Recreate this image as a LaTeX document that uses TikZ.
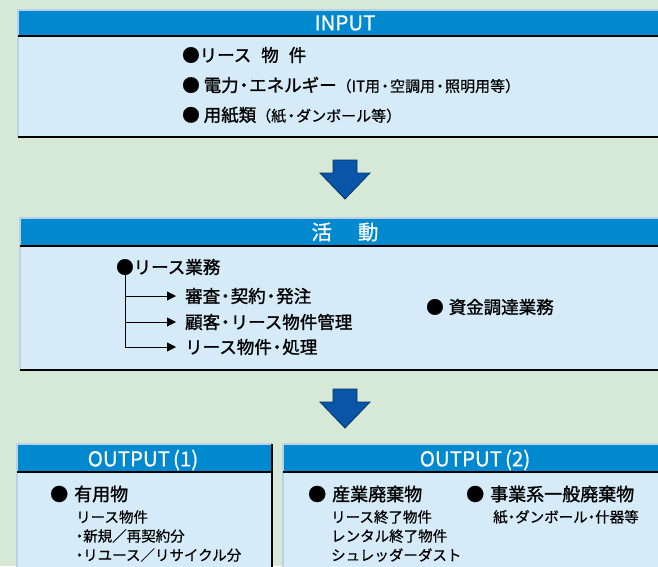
\documentclass[tikz,border=0pt]{standalone}
\usepackage{fontspec}
\setmainfont{Noto Sans CJK JP}
\newfontfamily\medf{Noto Sans CJK JP}[FakeBold=1.3]
\newfontfamily\lightf{Noto Sans CJK JP}[FakeBold=0.6]
\usetikzlibrary{arrows.meta}
\definecolor{bg}{HTML}{D6E9D6}
\definecolor{hdr}{HTML}{0089CF}
\definecolor{bodyc}{HTML}{D5EBF8}
\definecolor{rim}{HTML}{B9D2EA}
\definecolor{arrowc}{HTML}{0A55A8}
\definecolor{arrowd}{HTML}{05336B}
\newcommand{\nb}{\hspace{-3.5pt}}
\newcommand{\nbs}{\hspace{-2.5pt}}
\tikzset{
  txt/.style={inner sep=0pt, anchor=west, font=\medf\fontsize{17.5}{20}\selectfont},
  big/.style={inner sep=0pt, anchor=west, font=\medf\fontsize{18}{21}\selectfont},
  small/.style={inner sep=0pt, anchor=west, font=\lightf\fontsize{14.5}{16}\selectfont},
  head/.style={inner sep=0pt, text=white, font=\lightf\fontsize{20.5}{22}\selectfont},
  rimline/.style={draw=rim, line width=2pt},
  sep/.style={draw=black, line width=1.6pt},
  base/.style={draw=black, line width=2.2pt},
  blockarrow/.style={fill=arrowc, draw=arrowd, line width=0.8pt, line join=miter},
  branch/.style={draw=black, line width=0.9pt, -{Triangle[length=9pt,width=9pt]}}
}
\begin{document}
\begin{tikzpicture}[x=1pt,y=-1pt]
\useasboundingbox (0,0) rectangle (658,566);
\fill[bg] (0,0) rectangle (658,566);

% ---------- INPUT box
\fill[hdr] (18,10) rectangle (662,36);
\fill[bodyc] (18,36) rectangle (662,137);
\draw[rimline] (18,137) -- (18,10) -- (662,10);
\draw[sep] (18,36) -- (662,36);
\draw[base] (18,137) -- (662,137);
\node[head] (inh) at (345,23) {INPUT};
\node[txt] (in1) at (182,55) {●リース\hspace{10pt}物\hspace{10pt}件};
\node[txt] (in2) at (182,85) {●\hspace{4pt}電力\nb・\nb エネルギー\lightf\fontsize{15}{16}\selectfont（IT用\nbs・\nbs 空調用\nbs・\nbs 照明用等）};
\node[txt] (in3) at (182,115) {●\hspace{4pt}用紙類\lightf\fontsize{15}{16}\selectfont（紙\nbs・\nbs ダンボール等）};

% ---------- arrow 1
\draw[blockarrow] (333,160) -- (357,160) -- (357,173) -- (370,173) -- (345,199) -- (320,173) -- (333,173) -- cycle;

% ---------- Activity box
\fill[hdr] (20,218) rectangle (662,246);
\fill[bodyc] (20,246) rectangle (662,370);
\draw[rimline] (20,370) -- (20,218) -- (662,218);
\draw[sep] (20,246) -- (662,246);
\draw[base] (20,370) -- (662,370);
\node[head] (acth) at (345,232) {活\hspace{26pt}動};
\node[txt] (lease) at (116,267) {●リース業務};
\coordinate (trunk) at (125,270);
\coordinate (b1) at (125,296);
\coordinate (b2) at (125,322);
\coordinate (b3) at (125,347);
\node[txt] (a1) at (185,296) {審査\nb・\nb 契約\nb・\nb 発注};
\node[txt] (a2) at (185,322) {顧客\nb・\nb リース物件管理};
\node[txt] (a3) at (185,347) {リース物件\nb・\nb 処理};
\draw[draw=black, line width=0.9pt] (trunk) -- (b3);
\draw[branch] (b1) -- ([xshift=-9pt]a1.west);
\draw[branch] (b2) -- ([xshift=-9pt]a2.west);
\draw[branch] (b3) -- ([xshift=-9pt]a3.west);
\node[txt] (fund) at (426,307) {●\hspace{5pt}資金調達業務};

% ---------- arrow 2
\draw[blockarrow] (333,389) -- (357,389) -- (357,402) -- (370,402) -- (345,428) -- (320,402) -- (333,402) -- cycle;

% ---------- OUTPUT (1)
\fill[hdr] (17,444) rectangle (272,472);
\fill[bodyc] (17,472) rectangle (272,570);
\draw[rimline] (17,570) -- (17,444) -- (272,444);
\draw[sep] (17,472) -- (272,472);
\draw[draw=black, line width=2pt] (272,444) -- (272,570);
\node[head] (o1h) at (143,460) {OUTPUT\hspace{3pt}(1)};
\node[big] (useful) at (50,494) {●\hspace{6pt}有用物};
\node[small] (u1) at (76,517) {リース物件};
\node[small] (u2) at (72,536) {・\nb 新規／再契約分};
\node[small] (u3) at (72,555) {・\nb リユース／リサイクル分};

% ---------- OUTPUT (2)
\fill[hdr] (283,444) rectangle (662,472);
\fill[bodyc] (283,472) rectangle (662,570);
\draw[rimline] (283,570) -- (283,444) -- (662,444);
\draw[sep] (283,472) -- (662,472);
\node[head] (o2h) at (475,460) {OUTPUT\hspace{3pt}(2)};
\node[big] (ind) at (308,494) {●\hspace{6pt}産業廃棄物};
\node[small] (i1) at (331,517) {リース終了物件};
\node[small] (i2) at (331,536) {レンタル終了物件};
\node[small] (i3) at (331,555) {シュレッダーダスト};
\node[big] (gen) at (466,494) {●\hspace{6pt}事業系一般廃棄物};
\node[small] (g1) at (493,517) {紙\nb・\nb ダンボール\nb・\nb 什器等};
\end{tikzpicture}
\end{document}
